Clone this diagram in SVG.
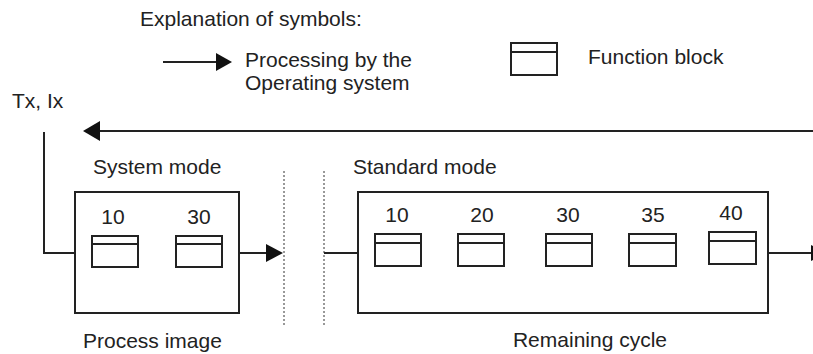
<svg xmlns="http://www.w3.org/2000/svg" width="813" height="354" viewBox="0 0 813 354">
<style>
text{font-family:"Liberation Sans",Arial,sans-serif;font-size:21px;fill:#222}
.box{fill:none;stroke:#222;stroke-width:2}
.fb{fill:#fff;stroke:#222;stroke-width:2}
.ln{fill:none;stroke:#222;stroke-width:2}
.dot{fill:none;stroke:#333;stroke-width:1;stroke-dasharray:2 2}
.ah{fill:#111}
</style>
<rect width="813" height="354" fill="#fff"/>
<g id="legend">
<text x="140" y="26">Explanation of symbols:</text>
<line class="ln" x1="163" y1="62" x2="218" y2="62"/>
<polygon class="ah" points="216,53 232,62 216,71"/>
<text x="245" y="67">Processing by the</text>
<text x="245" y="90">Operating system</text>
<g id="legend-fb">
<rect class="fb" x="511" y="43" width="46" height="32"/>
<line class="ln" x1="511" y1="52" x2="557" y2="52"/>
</g>
<text x="588" y="64">Function block</text>
</g>
<text id="txix" x="12" y="108">Tx, Ix</text>
<g id="connectors">
<line class="ln" x1="100" y1="131" x2="813" y2="131"/>
<polygon class="ah" points="100,121 83,131 100,141"/>
<polyline class="ln" points="44,132 44,253 75,253"/>
<line class="ln" x1="239" y1="253" x2="267" y2="253"/>
<polygon class="ah" points="266,244 283,253 266,262"/>
<line class="ln" x1="324" y1="253" x2="358" y2="253"/>
<line class="ln" x1="769" y1="253" x2="812" y2="253"/>
<polygon class="ah" points="811,245 827,253 811,261"/>
<line class="dot" x1="284" y1="171" x2="284" y2="325"/>
<line class="dot" x1="324" y1="171" x2="324" y2="325"/>
</g>
<g id="system-mode">
<text x="93" y="174">System mode</text>
<rect class="box" x="75" y="192" width="164" height="121"/>
<text x="83" y="348">Process image</text>
<g id="sys-fb10">
<text x="113" y="224" text-anchor="middle">10</text>
<rect class="fb" x="92" y="236" width="46" height="31"/>
<line class="ln" x1="92" y1="244" x2="138" y2="244"/>
</g>
<g id="sys-fb30">
<text x="199" y="224" text-anchor="middle">30</text>
<rect class="fb" x="176" y="236" width="46" height="31"/>
<line class="ln" x1="176" y1="244" x2="222" y2="244"/>
</g>
</g>
<g id="standard-mode">
<text x="353" y="174">Standard mode</text>
<rect class="box" x="358" y="192" width="410" height="121"/>
<text x="590" y="347" text-anchor="middle">Remaining cycle</text>
<g id="std-fb10">
<text x="397" y="222" text-anchor="middle">10</text>
<rect class="fb" x="375" y="234" width="46" height="32"/>
<line class="ln" x1="375" y1="243" x2="421" y2="243"/>
</g>
<g id="std-fb20">
<text x="482" y="222" text-anchor="middle">20</text>
<rect class="fb" x="458" y="234" width="46" height="32"/>
<line class="ln" x1="458" y1="243" x2="504" y2="243"/>
</g>
<g id="std-fb30">
<text x="568" y="222" text-anchor="middle">30</text>
<rect class="fb" x="546" y="234" width="46" height="32"/>
<line class="ln" x1="546" y1="243" x2="592" y2="243"/>
</g>
<g id="std-fb35">
<text x="653" y="222" text-anchor="middle">35</text>
<rect class="fb" x="629" y="234" width="47" height="32"/>
<line class="ln" x1="629" y1="243" x2="676" y2="243"/>
</g>
<g id="std-fb40">
<text x="731" y="220" text-anchor="middle">40</text>
<rect class="fb" x="709" y="232" width="47" height="32"/>
<line class="ln" x1="709" y1="241" x2="756" y2="241"/>
</g>
</g>
</svg>
